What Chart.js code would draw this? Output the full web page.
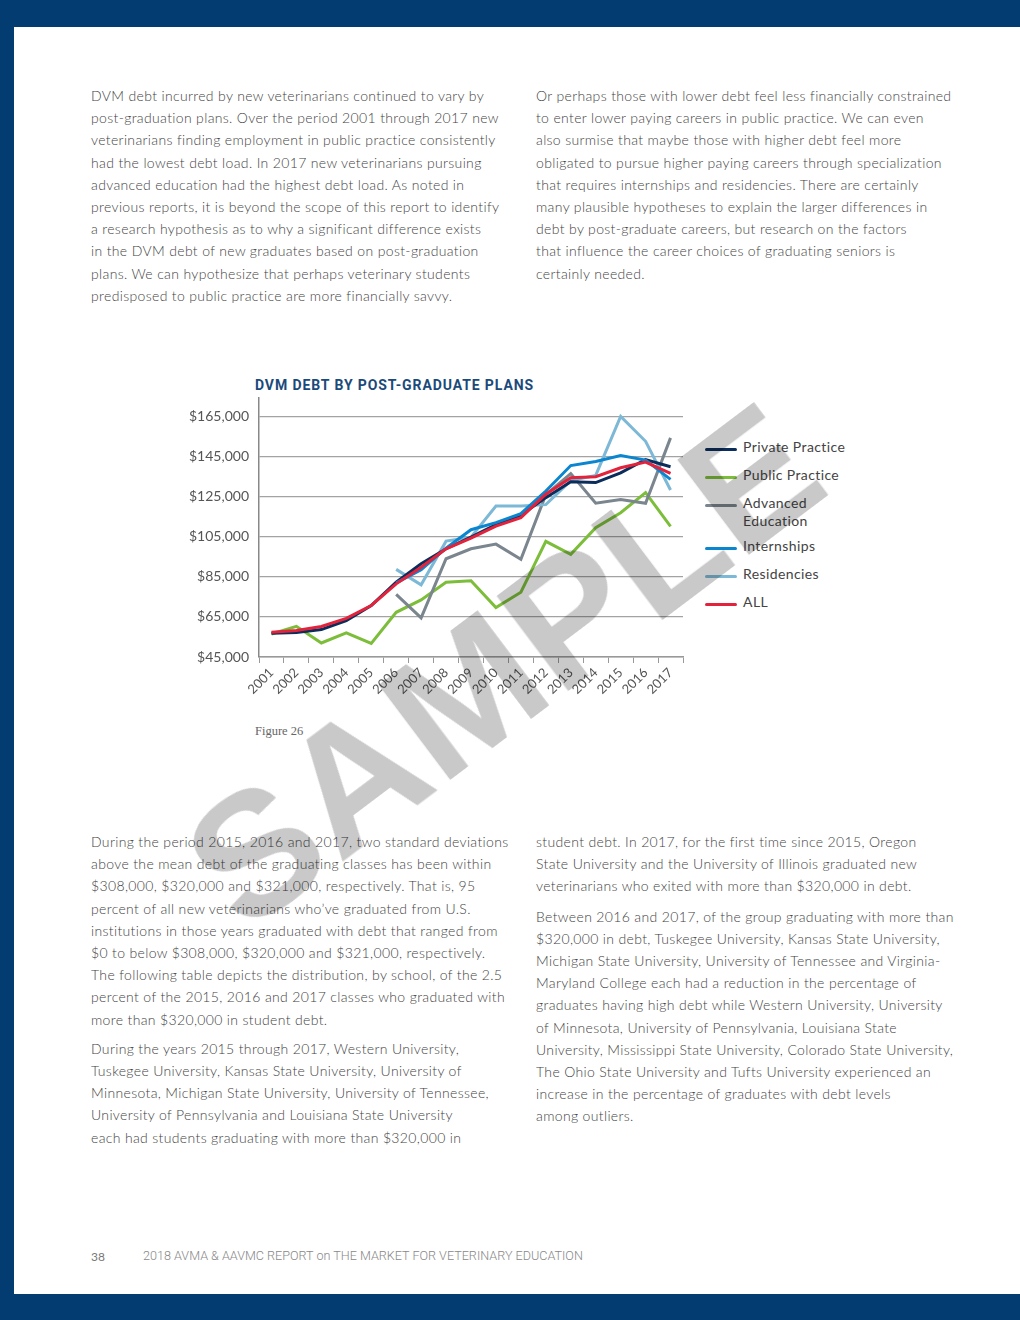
<!DOCTYPE html>
<html>
<head>
<meta charset="utf-8">
<script src="https://cdn.jsdelivr.net/npm/chart.js@4.4.1/dist/chart.umd.min.js"></script>
<style>
body { margin:0; width:1020px; height:1320px; position:relative; overflow:hidden; background:#fff; font-family:Lato, "Open Sans", sans-serif; }
.bar { position:absolute; background:#033c71; }
.txt { position:absolute; font-size:14px; font-weight:300; letter-spacing:0.35px; line-height:22.2px; color:#444; white-space:nowrap; }
.gap { height:7px; }
#title { position:absolute; left:255px; top:377px; font-family:Roboto, sans-serif; font-weight:700; font-size:14px; color:#1b4a7a; letter-spacing:0.9px; white-space:nowrap; }
#chart { position:absolute; left:180px; top:379px; }
#legend { position:absolute; left:705px; top:438px; font-size:14px; color:#444; letter-spacing:0.4px; }
.item { position:relative; height:28px; white-space:nowrap; }
.item.tall { height:43px; }
.item .sw { position:absolute; left:0; top:10px; width:32px; height:3px; border-radius:2px; }
.item .lb { position:absolute; left:38px; top:0; line-height:18px; }
#fig { position:absolute; left:255px; top:724px; font-family:"Liberation Serif", serif; font-size:12.5px; color:#666; }
#page { position:absolute; left:91px; top:1249px; font-size:12px; color:#777; }
#foot { position:absolute; left:143px; top:1249px; font-family:Roboto, sans-serif; font-weight:300; font-size:12px; color:#888; white-space:nowrap; transform-origin:0 0; }
#mark { position:absolute; left:503px; top:665px; transform:translate(-50%,-50%) rotate(-37deg) scaleX(1.03); font-family:"Liberation Sans", Arial, sans-serif; font-weight:700; font-size:172px; line-height:1; color:#c9c9c9; mix-blend-mode:multiply; pointer-events:none; z-index:10; }
</style>
</head>
<body>
<div class="bar" style="left:0;top:0;width:1020px;height:27px"></div>
<div class="bar" style="left:0;top:0;width:14px;height:1320px"></div>
<div class="bar" style="left:0;top:1294px;width:1020px;height:26px"></div>

<div class="txt" style="left:91px;top:85px">
DVM debt incurred by new veterinarians continued to vary by<br>
post-graduation plans. Over the period 2001 through 2017 new<br>
veterinarians finding employment in public practice consistently<br>
had the lowest debt load. In 2017 new veterinarians pursuing<br>
advanced education had the highest debt load. As noted in<br>
previous reports, it is beyond the scope of this report to identify<br>
a research hypothesis as to why a significant difference exists<br>
in the DVM debt of new graduates based on post-graduation<br>
plans. We can hypothesize that perhaps veterinary students<br>
predisposed to public practice are more financially savvy.
</div>
<div class="txt" style="left:536px;top:85px">
Or perhaps those with lower debt feel less financially constrained<br>
to enter lower paying careers in public practice. We can even<br>
also surmise that maybe those with higher debt feel more<br>
obligated to pursue higher paying careers through specialization<br>
that requires internships and residencies. There are certainly<br>
many plausible hypotheses to explain the larger differences in<br>
debt by post-graduate careers, but research on the factors<br>
that influence the career choices of graduating seniors is<br>
certainly needed.
</div>

<div id="title">DVM DEBT BY POST-GRADUATE PLANS</div>
<canvas id="chart" width="520" height="341"></canvas>
<div id="legend"></div>
<div id="fig">Figure 26</div>

<div class="txt" style="left:91px;top:831px">
During the period 2015, 2016 and 2017, two standard deviations<br>
above the mean debt of the graduating classes has been within<br>
$308,000, $320,000 and $321,000, respectively. That is, 95<br>
percent of all new veterinarians who’ve graduated from U.S.<br>
institutions in those years graduated with debt that ranged from<br>
$0 to below $308,000, $320,000 and $321,000, respectively.<br>
The following table depicts the distribution, by school, of the 2.5<br>
percent of the 2015, 2016 and 2017 classes who graduated with<br>
more than $320,000 in student debt.
<div class="gap"></div>
During the years 2015 through 2017, Western University,<br>
Tuskegee University, Kansas State University, University of<br>
Minnesota, Michigan State University, University of Tennessee,<br>
University of Pennsylvania and Louisiana State University<br>
each had students graduating with more than $320,000 in
</div>
<div class="txt" style="left:536px;top:831px">
student debt. In 2017, for the first time since 2015, Oregon<br>
State University and the University of Illinois graduated new<br>
veterinarians who exited with more than $320,000 in debt.
<div class="gap" style="height:8px"></div>
Between 2016 and 2017, of the group graduating with more than<br>
$320,000 in debt, Tuskegee University, Kansas State University,<br>
Michigan State University, University of Tennessee and Virginia-<br>
Maryland College each had a reduction in the percentage of<br>
graduates having high debt while Western University, University<br>
of Minnesota, University of Pennsylvania, Louisiana State<br>
University, Mississippi State University, Colorado State University,<br>
The Ohio State University and Tufts University experienced an<br>
increase in the percentage of graduates with debt levels<br>
among outliers.
</div>

<div id="page">38</div>
<div id="foot">2018 AVMA &amp; AAVMC REPORT on THE MARKET FOR VETERINARY EDUCATION</div>
<div id="mark">SAMPLE</div>

<script>
const years = ['2001','2002','2003','2004','2005','2006','2007','2008','2009','2010','2011','2012','2013','2014','2015','2016','2017'];
const yTicks = [45000, 65000, 85000, 105000, 125000, 145000, 165000];

const privatePractice = [56800, 57200, 58700, 63200, 70700, 82300, 91500, 99000, 104800, 111000, 115700, 124500, 132400, 132000, 136900, 143500, 139900];
const publicPractice = [56500, 60300, 52000, 57000, 51800, 67300, 73500, 82300, 83000, 69700, 77300, 102700, 96200, 109500, 117000, 127000, 110200];
const advancedEducation = [null, null, null, null, null, 76200, 64500, 94000, 99000, 101300, 93800, 126000, 136500, 121700, 123500, 121700, 154300];
const internships = [null, null, null, null, null, 82000, 88500, 99300, 108500, 112000, 116500, 127800, 140500, 142500, 145500, 143200, 133600];
const residencies = [null, null, null, null, null, 88700, 81000, 102800, 104800, 120300, 120300, 121000, 133000, 135600, 165000, 152600, 128300];
const allGrads = [57300, 58200, 60200, 64300, 70700, 81500, 89800, 99000, 104300, 110300, 114500, 126200, 134400, 134900, 139400, 142200, 136600];

const seriesNames = ['Private Practice', 'Public Practice', 'Advanced Education', 'Internships', 'Residencies', 'ALL'];
const seriesColors = ['#0b2d5b', '#7cbd3a', '#7a858e', '#0a86d0', '#7db9d6', '#e3233b'];
const seriesData = [privatePractice, publicPractice, advancedEducation, internships, residencies, allGrads];
const drawOrder = [2, 5, 4, 1, 3, 0];

Chart.defaults.font.family = 'Lato, "Open Sans", sans-serif';

const datasets = seriesNames.map((name, i) => ({
    label: name,
    data: seriesData[i],
    borderColor: seriesColors[i],
    backgroundColor: seriesColors[i],
    borderWidth: 3,
    pointRadius: 0,
    tension: 0,
    fill: false,
    order: drawOrder[i]
}));

new Chart(document.getElementById('chart'), {
    type: 'line',
    data: { labels: years, datasets: datasets },
    options: {
        responsive: false,
        animation: false,
        layout: { padding: { top: 7, right: 17, left: 0, bottom: 0 } },
        plugins: { legend: { display: false }, tooltip: { enabled: false } },
        scales: {
            x: {
                offset: true,
                grid: { offset: true, drawOnChartArea: false, drawTicks: true, tickLength: 6, color: '#999' },
                border: { color: '#999', width: 1.5 },
                ticks: { autoSkip: false, minRotation: 45, maxRotation: 45, color: '#555', font: { size: 13 }, padding: 2 },
                afterFit(s) { s.height = 63; }
            },
            y: {
                min: 45000,
                max: 174500,
                afterBuildTicks(s) { s.ticks = yTicks.map(v => ({ value: v })); },
                grid: { color: '#a3a3a3', lineWidth: 1.3, drawTicks: false },
                border: { color: '#888', width: 1.5 },
                ticks: { callback: v => '$' + v.toLocaleString('en-US'), color: '#555', font: { size: 14 }, padding: 10 },
                afterFit(s) { s.width = 79; }
            }
        }
    }
});

// legend
const legend = document.getElementById('legend');
seriesNames.forEach((name, i) => {
    const tall = name === 'Advanced Education';
    legend.innerHTML += `<div class="item${tall ? ' tall' : ''}"><div class="sw" style="background:${seriesColors[i]}"></div><div class="lb">${tall ? 'Advanced<br>Education' : name}</div></div>`;
});

// squeeze footer to its width on the page
const foot = document.getElementById('foot');
foot.style.transform = `scaleX(${440 / foot.offsetWidth})`;
</script>
</body>
</html>
